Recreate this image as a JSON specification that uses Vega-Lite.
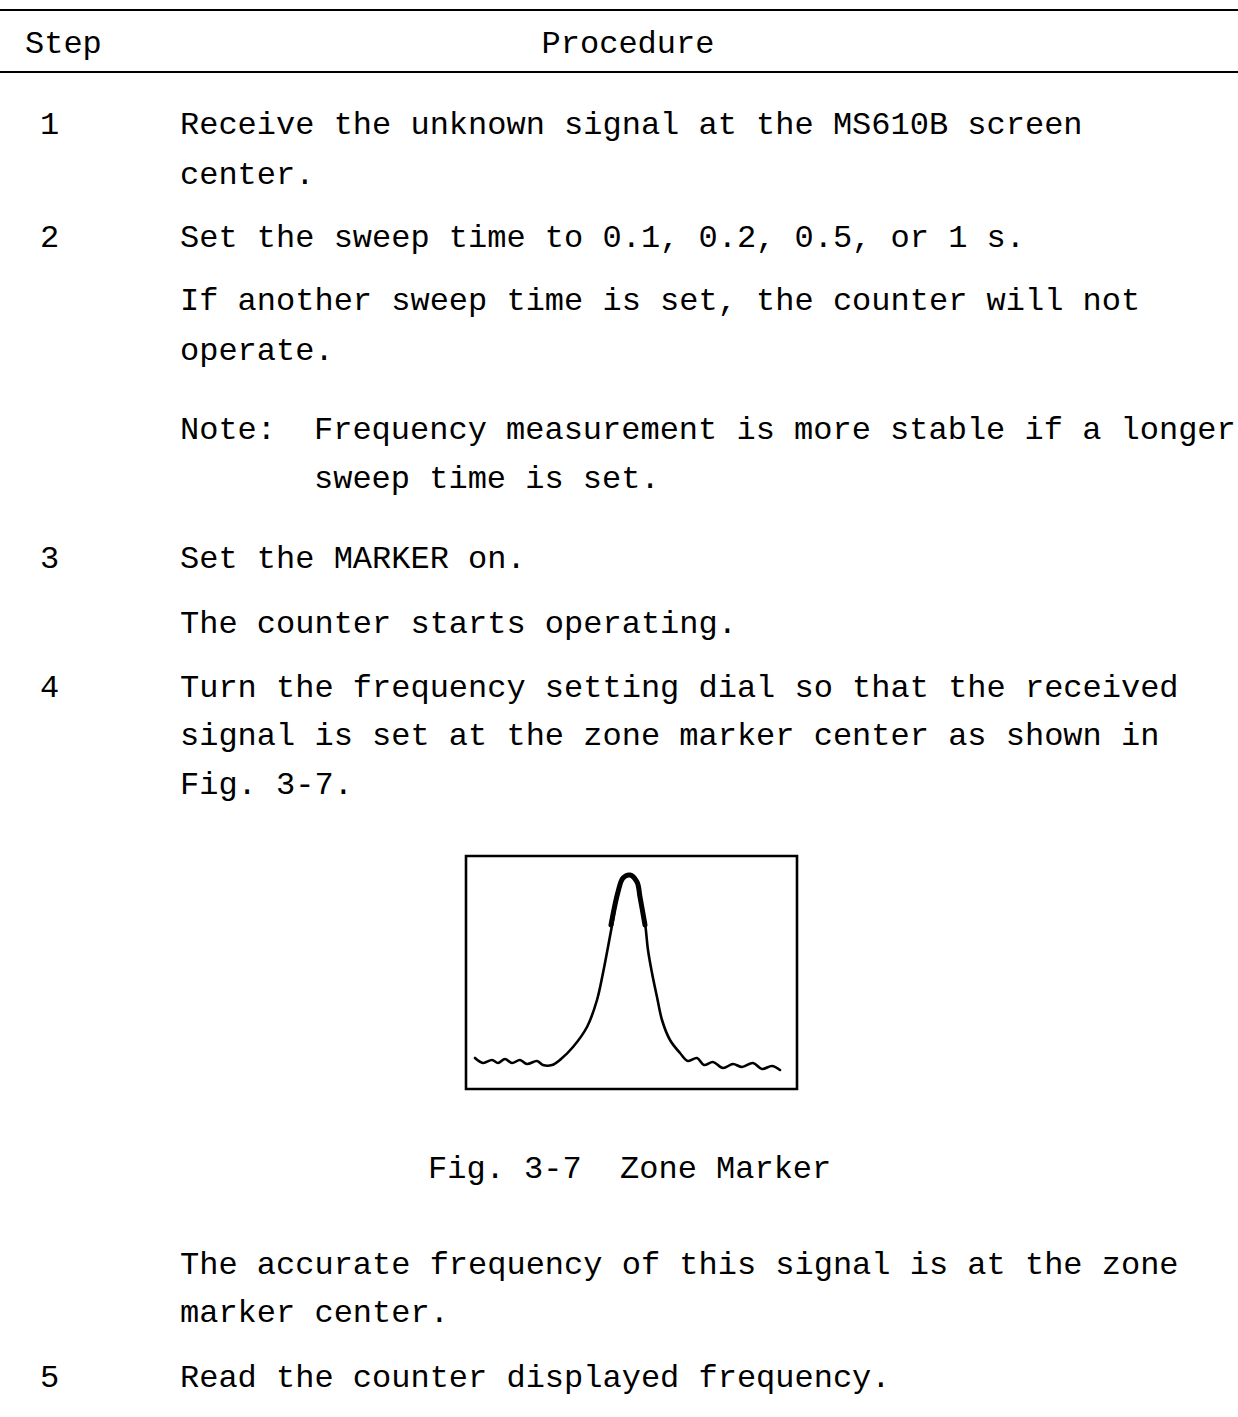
{
  "$schema": "https://vega.github.io/schema/vega-lite/v6.json",
  "autosize": {"type": "none"},
  "width": 1238,
  "height": 1417,
  "padding": 0,
  "background": "white",
  "config": {"view": {"stroke": null}},
  "datasets": {
    "texts": [
      {"x": 25, "y": 53, "t": "Step"},
      {"x": 40, "y": 134, "t": "1"},
      {"x": 180, "y": 134, "t": "Receive the unknown signal at the MS610B screen"},
      {"x": 180, "y": 184, "t": "center."},
      {"x": 40, "y": 247, "t": "2"},
      {"x": 180, "y": 247, "t": "Set the sweep time to 0.1, 0.2, 0.5, or 1 s."},
      {"x": 180, "y": 310, "t": "If another sweep time is set, the counter will not"},
      {"x": 180, "y": 360, "t": "operate."},
      {"x": 180, "y": 439, "t": "Note:"},
      {"x": 314, "y": 439, "t": "Frequency measurement is more stable if a longer"},
      {"x": 314, "y": 488, "t": "sweep time is set."},
      {"x": 40, "y": 568, "t": "3"},
      {"x": 180, "y": 568, "t": "Set the MARKER on."},
      {"x": 180, "y": 633, "t": "The counter starts operating."},
      {"x": 40, "y": 697, "t": "4"},
      {"x": 180, "y": 697, "t": "Turn the frequency setting dial so that the received"},
      {"x": 180, "y": 745, "t": "signal is set at the zone marker center as shown in"},
      {"x": 180, "y": 794, "t": "Fig. 3-7."},
      {"x": 428, "y": 1178, "t": "Fig. 3-7\u00a0\u00a0Zone Marker"},
      {"x": 180, "y": 1274, "t": "The accurate frequency of this signal is at the zone"},
      {"x": 180, "y": 1322, "t": "marker center."},
      {"x": 40, "y": 1387, "t": "5"},
      {"x": 180, "y": 1387, "t": "Read the counter displayed frequency."}
    ],
    "centered": [
      {"x": 628, "y": 53, "t": "Procedure"}
    ],
    "rules": [
      {"x": 0, "x2": 1238, "y": 10},
      {"x": 0, "x2": 1238, "y": 72}
    ],
    "box": [{"x": 466, "x2": 797, "y": 856, "y2": 1089}],
    "curve": [
      {"i": 1, "x": 475, "y": 1058}, {"i": 2, "x": 483, "y": 1063}, {"i": 3, "x": 492, "y": 1060},
      {"i": 4, "x": 498, "y": 1063}, {"i": 5, "x": 505, "y": 1059}, {"i": 6, "x": 512, "y": 1063},
      {"i": 7, "x": 520, "y": 1060}, {"i": 8, "x": 527, "y": 1064}, {"i": 9, "x": 537, "y": 1061},
      {"i": 10, "x": 543, "y": 1065}, {"i": 11, "x": 552, "y": 1065}, {"i": 12, "x": 561, "y": 1059},
      {"i": 13, "x": 573, "y": 1047}, {"i": 14, "x": 587, "y": 1027}, {"i": 15, "x": 597, "y": 1000},
      {"i": 16, "x": 603, "y": 973}, {"i": 17, "x": 608, "y": 947}, {"i": 18, "x": 613, "y": 920},
      {"i": 19, "x": 618, "y": 892}, {"i": 20, "x": 623, "y": 878}, {"i": 21, "x": 630, "y": 875},
      {"i": 22, "x": 637, "y": 882}, {"i": 23, "x": 640, "y": 897}, {"i": 24, "x": 645, "y": 923},
      {"i": 25, "x": 648, "y": 950}, {"i": 26, "x": 652, "y": 973}, {"i": 27, "x": 657, "y": 997},
      {"i": 28, "x": 662, "y": 1020}, {"i": 29, "x": 670, "y": 1040}, {"i": 30, "x": 680, "y": 1053},
      {"i": 31, "x": 688, "y": 1061}, {"i": 32, "x": 697, "y": 1058}, {"i": 33, "x": 704, "y": 1065},
      {"i": 34, "x": 713, "y": 1062}, {"i": 35, "x": 723, "y": 1068}, {"i": 36, "x": 733, "y": 1064},
      {"i": 37, "x": 742, "y": 1067}, {"i": 38, "x": 753, "y": 1063}, {"i": 39, "x": 762, "y": 1069},
      {"i": 40, "x": 772, "y": 1066}, {"i": 41, "x": 780, "y": 1070}
    ],
    "peak": [
      {"i": 1, "x": 611, "y": 925}, {"i": 2, "x": 618, "y": 892}, {"i": 3, "x": 623, "y": 878},
      {"i": 4, "x": 630, "y": 875}, {"i": 5, "x": 637, "y": 882}, {"i": 6, "x": 640, "y": 897},
      {"i": 7, "x": 645, "y": 925}
    ]
  },
  "layer": [
    {
      "data": {"name": "rules"},
      "mark": {"type": "rule", "stroke": "black", "strokeWidth": 2.2},
      "encoding": {
        "x": {"field": "x", "type": "quantitative", "scale": {"domain": [0, 1238], "nice": false, "zero": false}, "axis": null},
        "x2": {"field": "x2"},
        "y": {"field": "y", "type": "quantitative", "scale": {"domain": [0, 1417], "reverse": true, "nice": false, "zero": false}, "axis": null}
      }
    },
    {
      "data": {"name": "box"},
      "mark": {"type": "rect", "fill": null, "stroke": "black", "strokeWidth": 2.6},
      "encoding": {
        "x": {"field": "x", "type": "quantitative"},
        "x2": {"field": "x2"},
        "y": {"field": "y", "type": "quantitative"},
        "y2": {"field": "y2"}
      }
    },
    {
      "data": {"name": "curve"},
      "mark": {"type": "line", "stroke": "black", "strokeWidth": 2.6, "interpolate": "catmull-rom", "strokeJoin": "round", "strokeCap": "round"},
      "encoding": {
        "x": {"field": "x", "type": "quantitative"},
        "y": {"field": "y", "type": "quantitative"},
        "order": {"field": "i", "type": "quantitative"}
      }
    },
    {
      "data": {"name": "peak"},
      "mark": {"type": "line", "stroke": "black", "strokeWidth": 5, "interpolate": "catmull-rom", "strokeCap": "round"},
      "encoding": {
        "x": {"field": "x", "type": "quantitative"},
        "y": {"field": "y", "type": "quantitative"},
        "order": {"field": "i", "type": "quantitative"}
      }
    },
    {
      "data": {"name": "texts"},
      "mark": {"type": "text", "font": "Liberation Mono", "fontSize": 32, "color": "black", "baseline": "alphabetic", "align": "left"},
      "encoding": {
        "x": {"field": "x", "type": "quantitative"},
        "y": {"field": "y", "type": "quantitative"},
        "text": {"field": "t"}
      }
    },
    {
      "data": {"name": "centered"},
      "mark": {"type": "text", "font": "Liberation Mono", "fontSize": 32, "color": "black", "baseline": "alphabetic", "align": "center"},
      "encoding": {
        "x": {"field": "x", "type": "quantitative"},
        "y": {"field": "y", "type": "quantitative"},
        "text": {"field": "t"}
      }
    }
  ]
}
